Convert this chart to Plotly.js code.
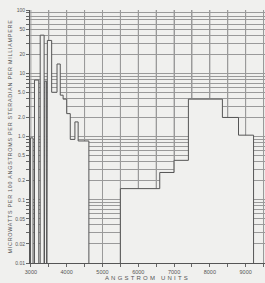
<!DOCTYPE html>
<html>
<head>
<meta charset="utf-8">
<script src="https://cdn.plot.ly/plotly-3.0.1.min.js"></script>
<style>
html,body{margin:0;padding:0;background:#f0f0ee;}
#chart{width:265px;height:283px;}
.g-xtitle text{letter-spacing:2.2px;}
.g-ytitle text{letter-spacing:0.75px;}
</style>
</head>
<body>
<div id="chart"></div>
<script>
// Step edges (Angstrom) and levels (microwatts per 100 A per sr per mA); 0 = no emission
const edges  = [2990, 3060, 3100, 3220, 3260, 3370, 3390, 3440, 3460, 3580, 3730, 3820, 3900, 4000, 4100, 4230, 4320, 4620, 5500, 6600, 7000, 7400, 8350, 8800, 9220];
const levels = [0.95, 0, 7.8, 0, 40, 0, 7.5, 0, 33, 5, 14, 4.5, 3.9, 2.3, 0.9, 1.7, 0.85, 0, 0.15, 0.27, 0.42, 3.9, 2.0, 1.05];

const xTickVals = [3000,3500,4000,4500,5000,5500,6000,6500,7000,7500,8000,8500,9000,9500];
const xTickText = ['3000','','4000','','5000','','6000','','7000','','8000','','9000',''];

const yLabelMap = {0.01:'0.01',0.02:'0.02',0.05:'0.05',0.1:'0.1',0.2:'0.2',0.5:'0.5',1:'1.0',2:'2.0',5:'5.0',10:'10',20:'20',50:'50',100:'100'};

const yTickVals = [], yTickText = [];
[0.01,0.1,1,10].forEach(d => {
  for (let m = 1; m <= 9; m++) {
    const v = +(m*d).toPrecision(3);
    yTickVals.push(v);
    yTickText.push(yLabelMap[v] || '');
  }
});
yTickVals.push(100); yTickText.push('100');

// build closed step polygon (below-range floor for gaps)
const FLOOR = 1e-4;
const px = [edges[0]], py = [FLOOR];
for (let i = 0; i < levels.length; i++) {
  const v = levels[i] > 0 ? levels[i] : FLOOR;
  px.push(edges[i], edges[i+1]);
  py.push(v, v);
}
px.push(edges[edges.length-1], edges[0]);
py.push(FLOOR, FLOOR);

const paper = '#f0f0ee';
const gridCol = '#9a9a9a';
const trace = {
  x: px, y: py, type: 'scatter', mode: 'lines',
  fill: 'toself', fillcolor: paper,
  line: {color: '#555', width: 1},
  hoverinfo: 'skip', showlegend: false
};

// vertical graph-paper lines (drawn under the trace)
const vShapes = xTickVals.map(v => ({
  type: 'line', xref: 'x', yref: 'paper', x0: v, x1: v, y0: 0, y1: 1,
  layer: 'between', line: {color: gridCol, width: 1}
}));

const layout = {
  width: 265, height: 283,
  margin: {l: 30, r: 0, t: 10, b: 20},
  paper_bgcolor: paper, plot_bgcolor: paper,
  font: {family: 'Liberation Sans, Arial, sans-serif', color: '#444'},
  shapes: vShapes,
  xaxis: {
    range: [2975, 9540], tickvals: xTickVals, ticktext: xTickText,
    ticks: 'outside', ticklen: 3, tickcolor: '#666', tickwidth: 1,
    showgrid: true, gridcolor: gridCol, gridwidth: 1,
    showline: true, linecolor: '#555', linewidth: 1, zeroline: false,
    tickfont: {size: 5.5, color: '#555'},
    title: {text: 'ANGSTROM UNITS', font: {size: 6, color: '#555'}, standoff: 2}
  },
  yaxis: {
    type: 'log', range: [-2, 2], tickvals: yTickVals, ticktext: yTickText,
    ticks: 'outside', ticklen: 3, tickcolor: '#666', tickwidth: 1,
    showgrid: true, gridcolor: gridCol, gridwidth: 1,
    showline: true, linecolor: '#555', linewidth: 1, zeroline: false,
    tickfont: {size: 5, color: '#555'},
    title: {text: 'MICROWATTS PER 100 ANGSTROMS PER STERADIAN PER MILLIAMPERE', font: {size: 5.4, color: '#555'}, standoff: 2}
  }
};

Plotly.newPlot('chart', [trace], layout, {staticPlot: true, displayModeBar: false});
</script>
</body>
</html>
